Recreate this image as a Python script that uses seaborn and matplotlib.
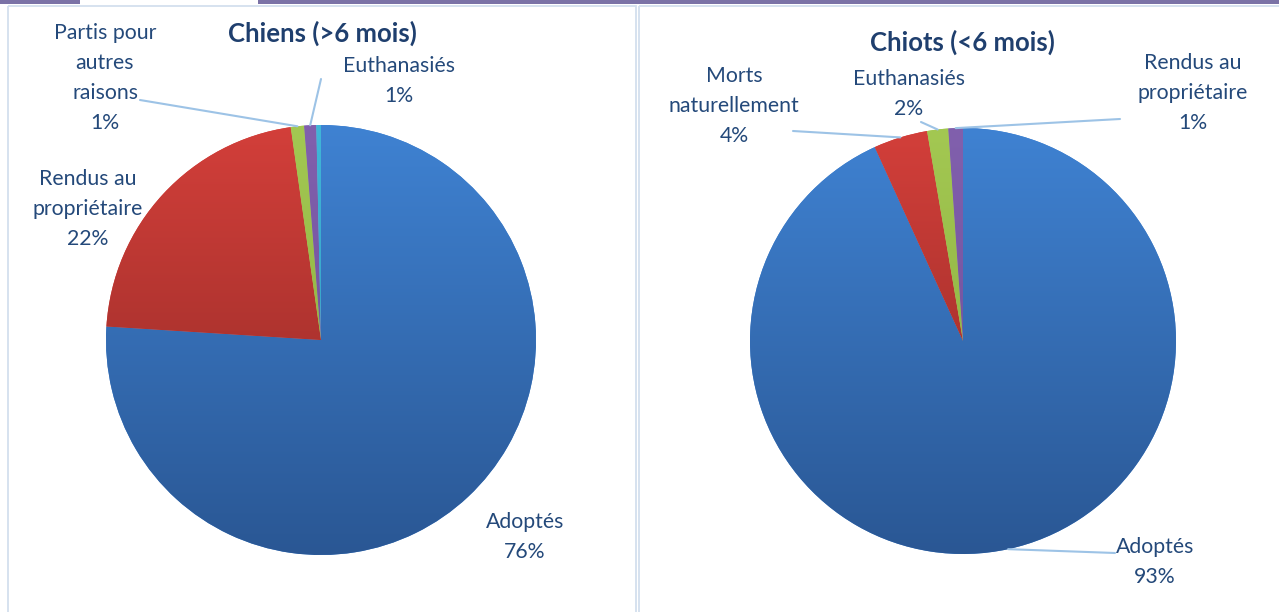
import numpy as np
import matplotlib
matplotlib.use("Agg")
import matplotlib.pyplot as plt
from matplotlib.patches import Rectangle
from matplotlib.colors import to_rgb
import seaborn as sns

# Data
chiens_labels = ["Adoptés", "Rendus au\npropriétaire", "Partis pour\nautres\nraisons", "Euthanasiés", ""]
chiens_values = [76.0, 21.75, 1.0, 0.9, 0.35]
chiots_labels = ["Adoptés", "Morts\nnaturellement", "Euthanasiés", "Rendus au\npropriétaire"]
chiots_values = [93.2, 4.1, 1.6, 1.1]

# gradient colours (top, bottom) for each slice
slice_colors = [("#3f82d2", "#2a5794"),
                ("#d33f3a", "#8a2824"),
                ("#a3c852", "#86a83c"),
                ("#8160ad", "#6a4a94"),
                ("#40b6d8", "#2f95b8")]

TEXT = "#24497a"
TITLE = "#1f3f6e"
LEADER = "#9dc3e6"

sns.set_theme(style="white")
plt.rcParams['font.family'] = ['Lato', 'DejaVu Sans']

W, H = 1279, 612
fig = plt.figure(figsize=(W / 100, H / 100), dpi=100)
ax = fig.add_axes([0, 0, 1, 1])


def gradient(top, bottom, n=256):
    t = np.linspace(0, 1, n)[:, None, None]
    return (1 - t) * np.array(to_rgb(top)) + t * np.array(to_rgb(bottom))


def draw_pie(values, labels, center, radius, title, title_pos, label_pos, leader_start):
    wedges, _ = ax.pie(values, center=center, radius=radius, startangle=-90,
                       counterclock=True, colors=[c[0] for c in slice_colors[:len(values)]],
                       wedgeprops=dict(linewidth=0))
    cx, cy = center
    for w, (top, bot) in zip(wedges, slice_colors):
        im = ax.imshow(gradient(top, bot), extent=(cx - radius, cx + radius, cy + radius, cy - radius),
                       origin="upper", aspect="auto", zorder=2)
        im.set_clip_path(w)
    total = sum(values)
    for w, lab, v, pos, start in zip(wedges, labels, values, label_pos, leader_start):
        if not lab:
            continue
        ax.text(pos[0], pos[1], f"{lab}\n{round(v / total * 100)}%", ha="center", va="center",
                fontsize=15.3, color=TEXT, linespacing=1.62, zorder=5)
        if start is not None:
            mid = np.deg2rad((w.theta1 + w.theta2) / 2)
            end = (cx + radius * np.cos(mid), cy + radius * np.sin(mid))
            ax.plot([start[0], end[0]], [start[1], end[1]], color=LEADER, lw=1.5, zorder=4)
    ax.text(title_pos[0], title_pos[1], title, ha="center", va="center", fontsize=18.5,
            fontweight="bold", color=TITLE, zorder=5)


# panels and top strip
ax.add_patch(Rectangle((8, 6), 628, 620, fill=False, edgecolor="#d3dfee", lw=1.3, zorder=0))
ax.add_patch(Rectangle((639, 6), 660, 620, fill=False, edgecolor="#d3dfee", lw=1.3, zorder=0))
ax.add_patch(Rectangle((0, 0), 80, 3.5, color="#7b72a6", lw=0, zorder=1))
ax.add_patch(Rectangle((258, 0), 1030, 3.5, color="#7b72a6", lw=0, zorder=1))

draw_pie(chiens_values, chiens_labels, (321, 340), 215, "Chiens (>6 mois)", (322, 33),
         [(525, 537), (88, 209), (105, 78), (399, 81), None],
         [None, None, (140, 100), (321, 79), None])

draw_pie(chiots_values, chiots_labels, (963, 341), 213, "Chiots (<6 mois)", (962, 42),
         [(1155, 562), (734, 106), (909, 94), (1193, 93)],
         [(1115, 553), (793, 131), (921, 122), (1120, 119)])

ax.set_xlim(0, W)
ax.set_ylim(H, 0)
ax.set_aspect("auto")
ax.axis("off")

fig.savefig("out.png", dpi=100)
